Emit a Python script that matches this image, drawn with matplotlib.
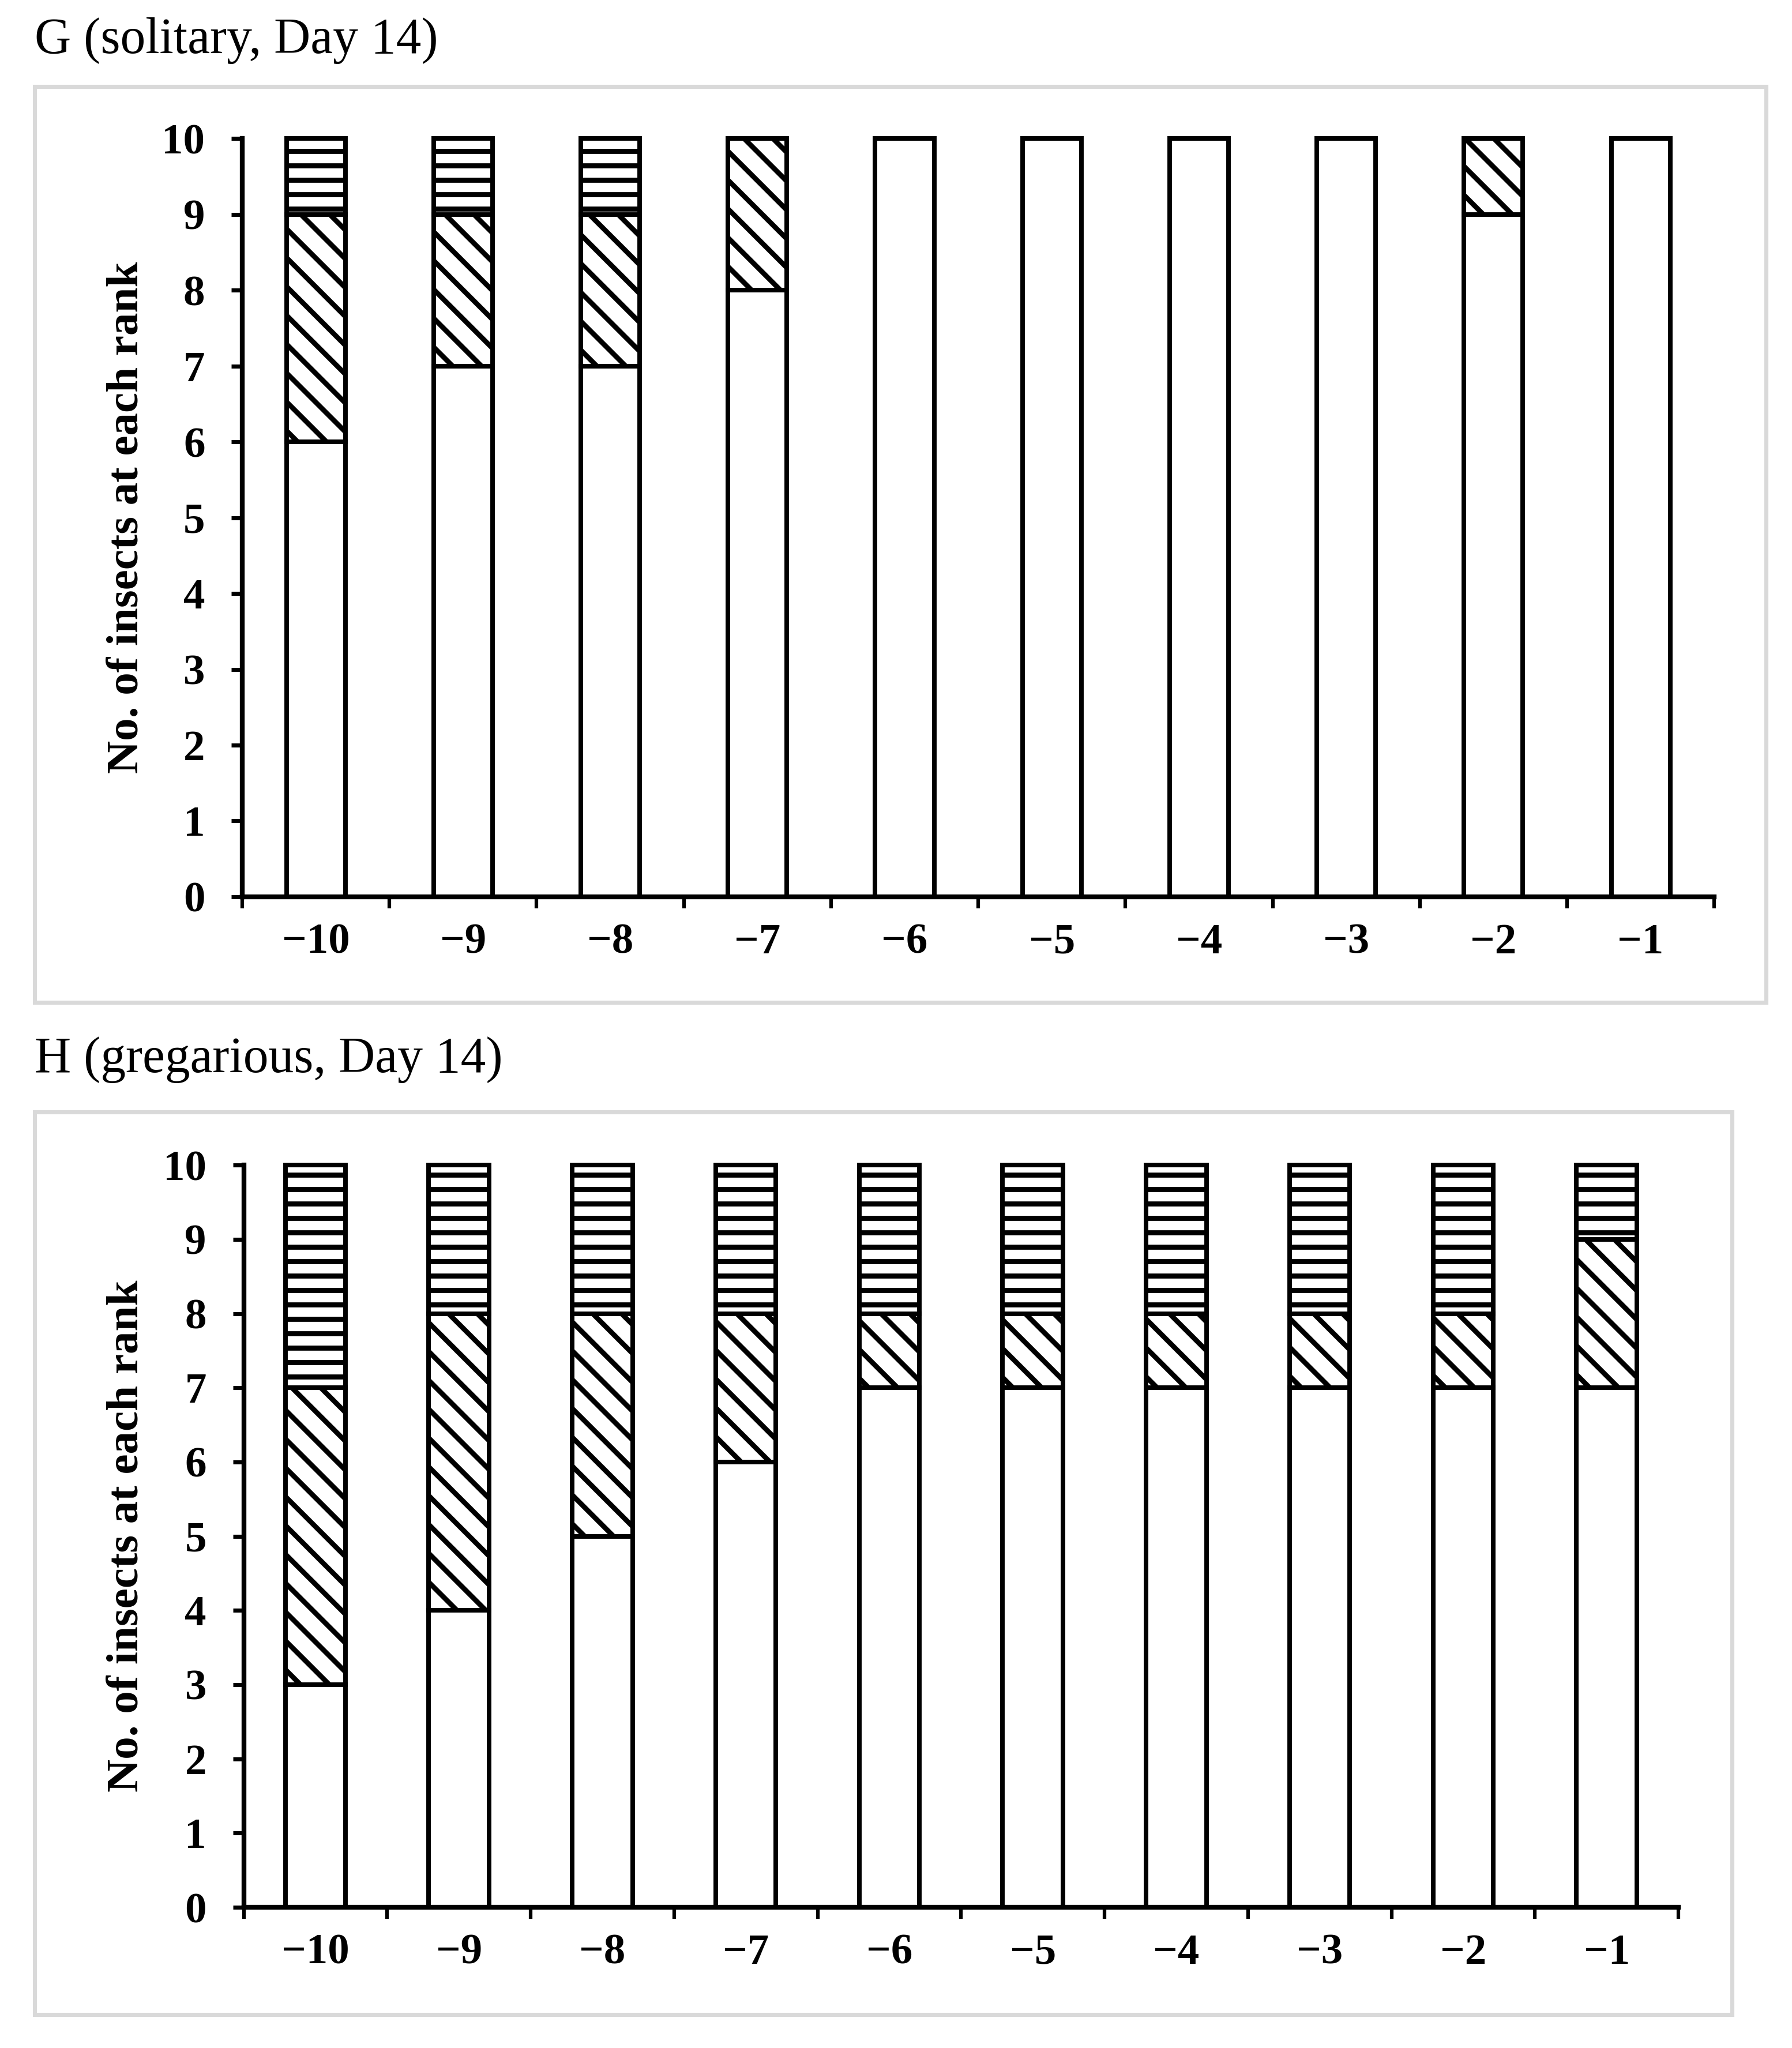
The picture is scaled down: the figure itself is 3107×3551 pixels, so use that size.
import matplotlib.pyplot as plt
from matplotlib.patches import Rectangle

plt.rcParams['font.family'] = ['Liberation Serif', 'DejaVu Serif']
plt.rcParams['hatch.linewidth'] = 2.1

# rangs sur l'axe x
ranks = ["\u221210", "\u22129", "\u22128", "\u22127", "\u22126",
         "\u22125", "\u22124", "\u22123", "\u22122", "\u22121"]

# G : solitaire, jour 14
g_plain = [6, 7, 7, 8, 10, 10, 10, 10, 9, 10]
g_diag = [3, 2, 2, 2, 0, 0, 0, 0, 1, 0]
g_horiz = [1, 1, 1, 0, 0, 0, 0, 0, 0, 0]

# H : grégaire, jour 14
h_plain = [3, 4, 5, 6, 7, 7, 7, 7, 7, 7]
h_diag = [4, 4, 3, 2, 1, 1, 1, 1, 1, 2]
h_horiz = [3, 2, 2, 2, 2, 2, 2, 2, 2, 1]

fig = plt.figure(figsize=(3107 / 300, 3551 / 300), dpi=300)
EDGE = 1.9


def panel(rect, frame, title, title_y, ylab_y, plain, diag, horiz, width):
    x0, y0, x1, y1 = frame
    fig.add_artist(Rectangle((x0, y0), x1 - x0, y1 - y0, transform=fig.transFigure,
                             fill=False, edgecolor='#d9d9d9', lw=1.7))
    fig.text(0.0193, title_y, title, fontsize=21, ha='left', va='baseline')
    fig.text(0.0708, ylab_y, "No. of insects at each rank", rotation=90,
             fontsize=19, fontweight='bold', ha='center', va='center')

    ax = fig.add_axes(rect)
    x = list(range(len(ranks)))
    bottom2 = [a + b for a, b in zip(plain, diag)]
    ax.bar(x, plain, width, color='white', edgecolor='black', lw=EDGE, clip_on=False)
    ax.bar(x, diag, width, bottom=plain, color='white', edgecolor='black', lw=EDGE,
           hatch='\\\\', clip_on=False)
    ax.bar(x, horiz, width, bottom=bottom2, color='white', edgecolor='black', lw=EDGE,
           hatch='--', clip_on=False)

    ax.set_xlim(-0.5, len(ranks) - 0.5)
    ax.set_ylim(0, 10)
    ax.spines['top'].set_visible(False)
    ax.spines['right'].set_visible(False)
    ax.spines['left'].set_linewidth(2.0)
    ax.spines['bottom'].set_linewidth(2.0)

    ax.set_yticks(range(0, 11))
    ax.set_xticks(x)
    ax.set_xticklabels(ranks)
    ax.set_xticks([i - 0.5 for i in range(len(ranks) + 1)], minor=True)
    ax.tick_params(axis='y', direction='out', length=4.5, width=1.7, pad=11,
                   labelsize=18)
    ax.tick_params(axis='x', which='major', length=0, pad=11, labelsize=18)
    ax.tick_params(axis='x', which='minor', direction='out', length=4.8, width=1.5)
    for lab in ax.get_xticklabels() + ax.get_yticklabels():
        lab.set_fontweight('bold')
    return ax


panel([0.1352, 0.5621, 0.9566 - 0.1352, 0.9324 - 0.5621],
      (0.0193, 0.5106, 0.9855, 0.9578),
      "G (solitary, Day 14)", 0.9741, 0.7474,
      g_plain, g_diag, g_horiz, 0.40)

panel([0.1360, 0.0687, 0.9366 - 0.1360, 0.4311 - 0.0687],
      (0.0193, 0.0163, 0.9665, 0.4571),
      "H (gregarious, Day 14)", 0.4765, 0.2500,
      h_plain, h_diag, h_horiz, 0.42)

fig.savefig("out.png", dpi=300)
